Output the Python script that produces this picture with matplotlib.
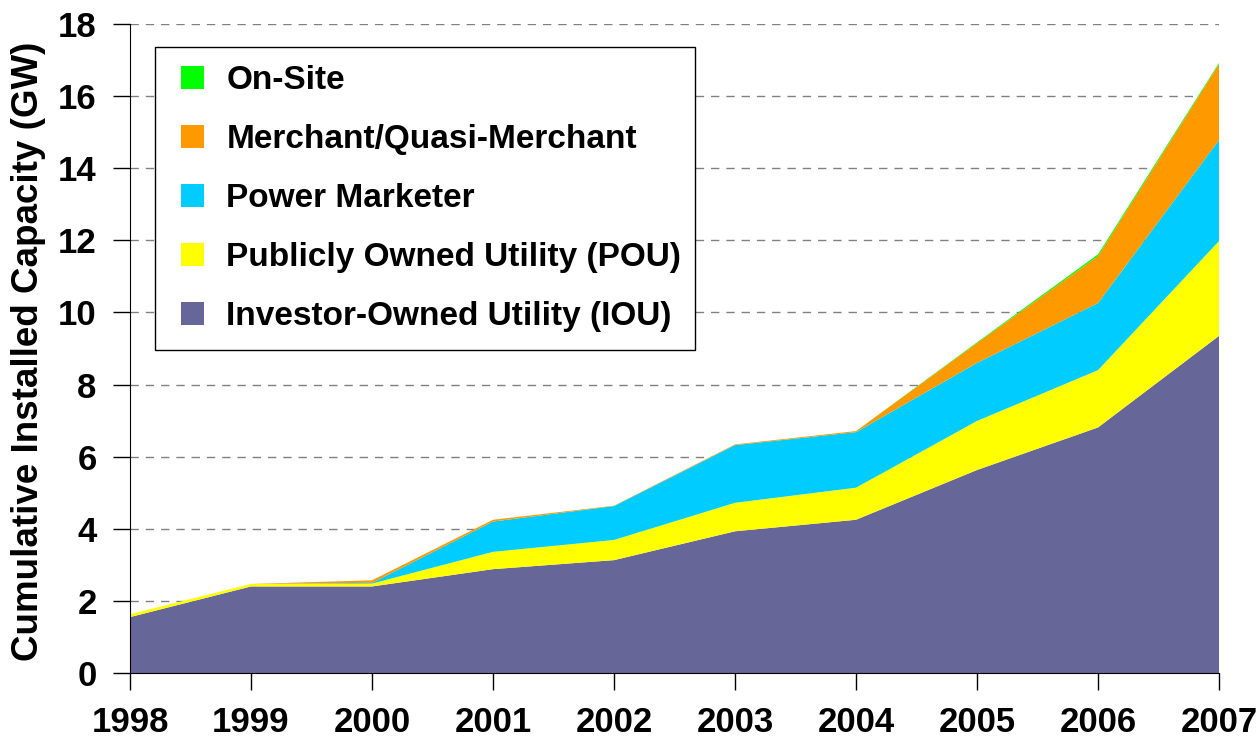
import matplotlib.pyplot as plt
from matplotlib.patches import Patch, Rectangle

plt.rcParams['font.family'] = ['Liberation Sans', 'DejaVu Sans']
plt.rcParams['font.weight'] = 'bold'

# Data (GW, stacked increments)
years = [1998, 1999, 2000, 2001, 2002, 2003, 2004, 2005, 2006, 2007]
iou = [1.55, 2.40, 2.40, 2.88, 3.13, 3.93, 4.25, 5.63, 6.81, 9.35]
pou = [0.08, 0.07, 0.08, 0.48, 0.56, 0.79, 0.89, 1.36, 1.59, 2.63]
marketer = [0.0, 0.0, 0.02, 0.84, 0.94, 1.60, 1.54, 1.61, 1.86, 2.80]
merchant = [0.0, 0.0, 0.07, 0.05, 0.01, 0.02, 0.03, 0.55, 1.30, 2.11]
onsite = [0.0, 0.0, 0.0, 0.0, 0.0, 0.0, 0.0, 0.02, 0.05, 0.03]

labels = ['Investor-Owned Utility (IOU)', 'Publicly Owned Utility (POU)',
          'Power Marketer', 'Merchant/Quasi-Merchant', 'On-Site']
colors = ['#666699', '#ffff00', '#00ccff', '#ff9900', '#00ff00']

W, H = 1257, 741
fig = plt.figure(figsize=(W / 100, H / 100), dpi=100)
ax = fig.add_axes([130 / W, 68 / H, 1089 / W, 649 / H])

ax.stackplot(years, iou, pou, marketer, merchant, onsite, colors=colors,
             linewidth=0, zorder=2)

ax.set_xlim(1998, 2007)
ax.set_ylim(0, 18)
ax.set_yticks(range(0, 19, 2))
ax.set_xticks(years)
ax.tick_params(axis='both', labelsize=25, length=12, width=1, color='black')
ax.tick_params(axis='x', pad=12)
ax.tick_params(axis='y', pad=12)
for lbl in ax.get_xticklabels() + ax.get_yticklabels():
    lbl.set_fontweight('bold')

ax.yaxis.grid(True, linestyle=(0, (6, 5)), color='#808080', linewidth=1, zorder=1)
ax.set_axisbelow(True)
ax.spines['top'].set_visible(False)
ax.spines['right'].set_visible(False)
ax.spines['left'].set_color('black')
ax.spines['bottom'].set_color('black')

ax.set_ylabel('Cumulative Installed Capacity (GW)', fontsize=26.5, fontweight='bold')
ax.yaxis.set_label_coords(-0.077, 0.495)

# legend box drawn by hand so the padding matches
fig.patches.append(Rectangle((155 / W, 1 - 350 / H), 540 / W, 303 / H,
                             transform=fig.transFigure, facecolor='white',
                             edgecolor='black', linewidth=1, zorder=5))
handles = [Patch(facecolor=c, edgecolor='none') for c in colors[::-1]]
leg = fig.legend(handles, labels[::-1], loc='upper left',
                 bbox_to_anchor=(181 / W, 1 - 65 / H), borderaxespad=0, borderpad=0,
                 prop={'size': 24, 'weight': 'bold'}, frameon=False,
                 handlelength=0.68, handleheight=0.68,
                 handletextpad=0.68, labelspacing=0.84)
leg.set_zorder(6)

fig.savefig('out.png', dpi=100)
